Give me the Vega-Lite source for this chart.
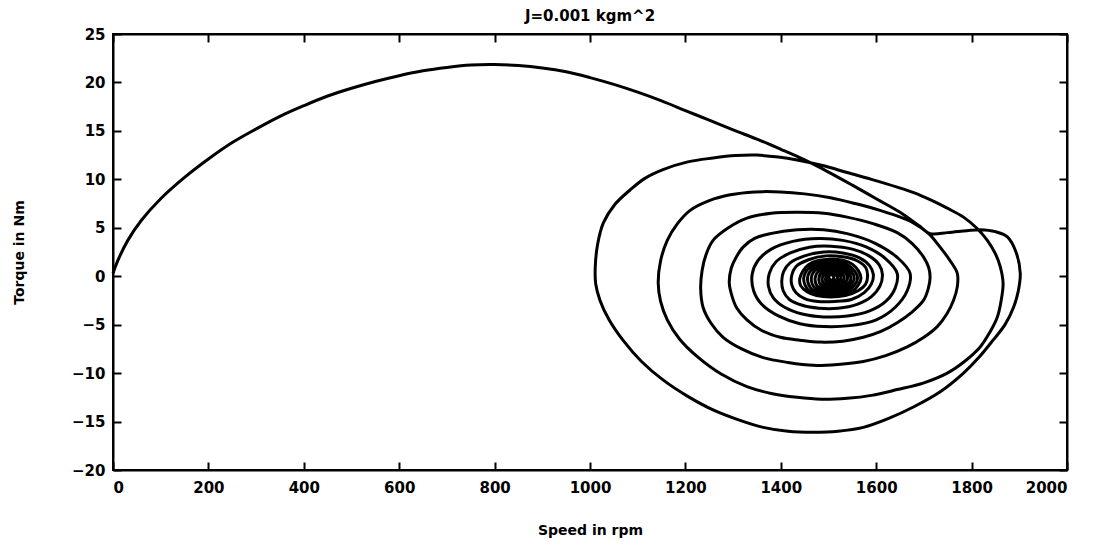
{
  "$schema": "https://vega.github.io/schema/vega-lite/v6.json",
  "width": 954,
  "height": 436,
  "autosize": {"type": "none"},
  "padding": {"left": 113, "top": 34, "right": 38, "bottom": 76},
  "background": "white",
  "title": {"text": "J=0.001 kgm^2", "fontSize": 15, "font": "DejaVu Sans", "fontWeight": "bold", "color": "black", "offset": 3, "anchor": "middle"},
  "config": {
    "view": {"stroke": "black", "strokeWidth": 2},
    "axis": {"domainColor": "black", "domainWidth": 2, "tickColor": "black", "tickWidth": 2, "tickSize": -8, "labelFont": "DejaVu Sans", "labelFontWeight": "bold", "labelFontSize": 15, "labelColor": "black", "titleFont": "DejaVu Sans", "titleFontWeight": "bold", "titleColor": "black", "grid": false}
  },
  "data": {"values": [
    {"speed":0,"torque":0.3},{"speed":10,"torque":1.6},{"speed":31,"torque":3.7},{"speed":60,"torque":5.8},{"speed":100,"torque":8},{"speed":150,"torque":10.2},{"speed":200,"torque":12.1},{"speed":250,"torque":13.8},{"speed":300,"torque":15.2},{"speed":350,"torque":16.5},{"speed":400,"torque":17.6},{"speed":450,"torque":18.6},{"speed":500,"torque":19.4},{"speed":550,"torque":20.1},{"speed":600,"torque":20.7},{"speed":650,"torque":21.2},{"speed":700,"torque":21.55},{"speed":750,"torque":21.8},{"speed":800,"torque":21.85},{"speed":850,"torque":21.75},{"speed":900,"torque":21.5},{"speed":950,"torque":21.1},{"speed":1000,"torque":20.5},{"speed":1050,"torque":19.8},{"speed":1100,"torque":19},{"speed":1150,"torque":18.1},{"speed":1200,"torque":17.1},{"speed":1250,"torque":16.1},{"speed":1300,"torque":15.1},{"speed":1350,"torque":14.15},{"speed":1400,"torque":13.1},{"speed":1450,"torque":12.0},{"speed":1500,"torque":10.75},{"speed":1550,"torque":9.4},{"speed":1600,"torque":8.0},{"speed":1650,"torque":6.6},{"speed":1690,"torque":5.2},{"speed":1713,"torque":4.4},{"speed":1750,"torque":4.5},{"speed":1790,"torque":4.7},{"speed":1818,"torque":4.8},{"speed":1850,"torque":4.6},{"speed":1875,"torque":4.05},{"speed":1893,"torque":2.5},{"speed":1902,"torque":0.3},
    {"speed":1898,"torque":-1.5},{"speed":1888,"torque":-3.2},{"speed":1870,"torque":-5},{"speed":1845,"torque":-6.6},{"speed":1815,"torque":-8.4},{"speed":1783,"torque":-10},{"speed":1735,"torque":-11.9},{"speed":1678,"torque":-13.5},{"speed":1625,"torque":-14.7},{"speed":1573,"torque":-15.6},{"speed":1520,"torque":-16},{"speed":1468,"torque":-16.1},{"speed":1415,"torque":-16},{"speed":1363,"torque":-15.6},{"speed":1310,"torque":-14.8},{"speed":1258,"torque":-13.8},{"speed":1205,"torque":-12.4},{"speed":1153,"torque":-10.7},{"speed":1108,"torque":-8.8},{"speed":1069,"torque":-6.6},{"speed":1040,"torque":-4.5},{"speed":1021,"torque":-2.5},{"speed":1012,"torque":-0.8},{"speed":1011,"torque":0.95},{"speed":1016,"torque":3.3},{"speed":1028,"torque":5.5},{"speed":1052,"torque":7.4},{"speed":1084,"torque":8.9},{"speed":1115,"torque":10.1},{"speed":1153,"torque":11},{"speed":1205,"torque":11.8},{"speed":1258,"torque":12.2},{"speed":1305,"torque":12.45},{"speed":1350,"torque":12.5},{"speed":1395,"torque":12.3},{"speed":1434,"torque":12},{"speed":1490,"torque":11.4},{"speed":1539,"torque":10.7},{"speed":1590,"torque":10},{"speed":1644,"torque":9.2},{"speed":1680,"torque":8.6},{"speed":1713,"torque":7.9},{"speed":1750,"torque":7},{"speed":1783,"torque":6.1},{"speed":1810,"torque":5},{"speed":1833,"torque":3.7},{"speed":1850,"torque":2.3},{"speed":1860,"torque":1},{"speed":1866,"torque":-0.7},
    {"speed":1862,"torque":-2.5},{"speed":1854,"torque":-4.2},{"speed":1838,"torque":-5.8},{"speed":1818,"torque":-7.3},{"speed":1785,"torque":-8.8},{"speed":1749,"torque":-10},{"speed":1700,"torque":-11},{"speed":1644,"torque":-11.7},{"speed":1590,"torque":-12.3},{"speed":1539,"torque":-12.6},{"speed":1485,"torque":-12.7},{"speed":1434,"torque":-12.5},{"speed":1380,"torque":-12.1},{"speed":1329,"torque":-11.4},{"speed":1275,"torque":-10.1},{"speed":1225,"torque":-8.3},{"speed":1188,"torque":-6.5},{"speed":1162,"torque":-4.5},{"speed":1148,"torque":-2.6},{"speed":1143,"torque":-0.7},{"speed":1148,"torque":1.6},{"speed":1162,"torque":3.7},{"speed":1183,"torque":5.4},{"speed":1210,"torque":6.8},{"speed":1250,"torque":7.8},{"speed":1294,"torque":8.4},{"speed":1345,"torque":8.7},{"speed":1399,"torque":8.7},{"speed":1450,"torque":8.5},{"speed":1504,"torque":8.1},{"speed":1556,"torque":7.5},{"speed":1608,"torque":6.8},{"speed":1645,"torque":6.2},{"speed":1678,"torque":5.5},{"speed":1710,"torque":4.4},{"speed":1734,"torque":3},{"speed":1755,"torque":1.6},{"speed":1770,"torque":0.3},
    {"speed":1770,"torque":-1.1},{"speed":1762,"torque":-2.5},{"speed":1748,"torque":-3.9},{"speed":1728,"torque":-5.2},{"speed":1700,"torque":-6.3},{"speed":1665,"torque":-7.3},{"speed":1620,"torque":-8.2},{"speed":1573,"torque":-8.8},{"speed":1520,"torque":-9.1},{"speed":1468,"torque":-9.2},{"speed":1415,"torque":-8.9},{"speed":1363,"torque":-8.4},{"speed":1318,"torque":-7.5},{"speed":1279,"torque":-6.3},{"speed":1253,"torque":-4.8},{"speed":1237,"torque":-3.2},{"speed":1232,"torque":-1.3},{"speed":1235,"torque":0.6},{"speed":1243,"torque":2.2},{"speed":1258,"torque":3.7},{"speed":1290,"torque":5},{"speed":1329,"torque":6},{"speed":1380,"torque":6.5},{"speed":1434,"torque":6.6},{"speed":1490,"torque":6.5},{"speed":1539,"torque":6.1},{"speed":1595,"torque":5.4},{"speed":1644,"torque":4.5},{"speed":1675,"torque":3.4},{"speed":1699,"torque":2},{"speed":1710,"torque":0.9},{"speed":1713,"torque":-0.1},
    {"speed":1709,"torque":-1.3},{"speed":1699,"torque":-2.5},{"speed":1675,"torque":-3.7},{"speed":1644,"torque":-4.8},{"speed":1610,"torque":-5.7},{"speed":1573,"torque":-6.3},{"speed":1530,"torque":-6.7},{"speed":1483,"torque":-6.8},{"speed":1440,"torque":-6.6},{"speed":1399,"torque":-6.3},{"speed":1360,"torque":-5.6},{"speed":1329,"torque":-4.5},{"speed":1308,"torque":-3.3},{"speed":1298,"torque":-2.1},{"speed":1292,"torque":-0.7},{"speed":1296,"torque":0.8},{"speed":1307,"torque":2.0},{"speed":1321,"torque":3},{"speed":1345,"torque":3.9},{"speed":1378,"torque":4.4},{"speed":1434,"torque":4.8},{"speed":1490,"torque":4.8},{"speed":1539,"torque":4.4},{"speed":1598,"torque":3.4},{"speed":1645,"torque":1.9},{"speed":1671,"torque":0.3},
    {"speed":1665,"torque":-1.5},{"speed":1640,"torque":-3.2},{"speed":1600,"torque":-4.5},{"speed":1545,"torque":-5.1},{"speed":1490,"torque":-5.2},{"speed":1440,"torque":-4.9},{"speed":1395,"torque":-4.1},{"speed":1360,"torque":-2.9},{"speed":1343,"torque":-1.5},{"speed":1340,"torque":0.2},{"speed":1352,"torque":1.6},{"speed":1380,"torque":2.8},{"speed":1425,"torque":3.6},{"speed":1480,"torque":3.9},{"speed":1530,"torque":3.7},{"speed":1580,"torque":3},{"speed":1620,"torque":1.8},{"speed":1644,"torque":0.3},
    {"speed":1640,"torque":-1.2},{"speed":1620,"torque":-2.6},{"speed":1585,"torque":-3.6},{"speed":1540,"torque":-4.1},{"speed":1490,"torque":-4.2},{"speed":1445,"torque":-3.9},{"speed":1408,"torque":-3.2},{"speed":1384,"torque":-2.2},{"speed":1374,"torque":-1},{"speed":1376,"torque":0.3},{"speed":1390,"torque":1.5},{"speed":1420,"torque":2.4},{"speed":1460,"torque":3.0},{"speed":1505,"torque":3.1},{"speed":1550,"torque":2.8},{"speed":1585,"torque":2.1},{"speed":1606,"torque":1.2},{"speed":1613,"torque":0.2},
    {"speed":1608,"torque":-1},{"speed":1590,"torque":-2.1},{"speed":1560,"torque":-2.9},{"speed":1520,"torque":-3.3},{"speed":1480,"torque":-3.3},{"speed":1445,"torque":-3.0},{"speed":1418,"torque":-2.4},{"speed":1405,"torque":-1.5},{"speed":1402,"torque":-0.5},{"speed":1406,"torque":0.5},{"speed":1420,"torque":1.4},{"speed":1450,"torque":2.1},{"speed":1490,"torque":2.5},{"speed":1530,"torque":2.4},{"speed":1565,"torque":1.9},{"speed":1586,"torque":1.1},{"speed":1594,"torque":0.2},
    {"speed":1590,"torque":-0.8},{"speed":1575,"torque":-1.7},{"speed":1548,"torque":-2.4},{"speed":1512,"torque":-2.6},{"speed":1478,"torque":-2.6},{"speed":1450,"torque":-2.3},{"speed":1432,"torque":-1.7},{"speed":1423,"torque":-0.9},{"speed":1423,"torque":0.1},{"speed":1432,"torque":1},{"speed":1458,"torque":1.7},{"speed":1495,"torque":2.1},{"speed":1530,"torque":2},{"speed":1560,"torque":1.6},{"speed":1578,"torque":0.9},{"speed":1582,"torque":0.1},
    {"speed":1578,"torque":-0.8},{"speed":1562,"torque":-1.5},{"speed":1535,"torque":-2},{"speed":1505,"torque":-2.15},{"speed":1475,"torque":-2},{"speed":1455,"torque":-1.6},{"speed":1442,"torque":-1},{"speed":1440,"torque":-0.2},
    {"speed":1458,"torque":1.2},{"speed":1504,"torque":1.75},{"speed":1550,"torque":1.25},{"speed":1568,"torque":-0.2},{"speed":1550,"torque":-1.55},{"speed":1504,"torque":-2.0},{"speed":1460,"torque":-1.55},
    {"speed":1448,"torque":-0.2},{"speed":1464,"torque":1.05},{"speed":1504,"torque":1.5},{"speed":1544,"torque":1.05},{"speed":1561,"torque":-0.2},{"speed":1544,"torque":-1.4},{"speed":1504,"torque":-1.8},{"speed":1466,"torque":-1.4},
    {"speed":1456,"torque":-0.2},{"speed":1470,"torque":0.9},{"speed":1504,"torque":1.3},{"speed":1538,"torque":0.9},{"speed":1554,"torque":-0.2},{"speed":1538,"torque":-1.25},{"speed":1504,"torque":-1.6},{"speed":1472,"torque":-1.25},
    {"speed":1464,"torque":-0.2},{"speed":1476,"torque":0.78},{"speed":1504,"torque":1.12},{"speed":1532,"torque":0.78},{"speed":1547,"torque":-0.2},{"speed":1532,"torque":-1.1},{"speed":1504,"torque":-1.42},{"speed":1478,"torque":-1.1},
    {"speed":1472,"torque":-0.2},{"speed":1482,"torque":0.66},{"speed":1504,"torque":0.96},{"speed":1527,"torque":0.66},{"speed":1540,"torque":-0.2},{"speed":1527,"torque":-0.95},{"speed":1504,"torque":-1.22},{"speed":1484,"torque":-0.95},
    {"speed":1480,"torque":-0.2},{"speed":1488,"torque":0.54},{"speed":1504,"torque":0.8},{"speed":1521,"torque":0.54},{"speed":1533,"torque":-0.2},{"speed":1521,"torque":-0.8},{"speed":1504,"torque":-1.04},{"speed":1490,"torque":-0.8},
    {"speed":1487,"torque":-0.2},{"speed":1493,"torque":0.42},{"speed":1505,"torque":0.65},{"speed":1516,"torque":0.42},{"speed":1526,"torque":-0.2},{"speed":1516,"torque":-0.66},{"speed":1505,"torque":-0.86},{"speed":1495,"torque":-0.66},
    {"speed":1494,"torque":-0.2},{"speed":1498,"torque":0.3},{"speed":1505,"torque":0.5},{"speed":1512,"torque":0.3},{"speed":1519,"torque":-0.2},{"speed":1512,"torque":-0.52},{"speed":1505,"torque":-0.68},{"speed":1499,"torque":-0.52},
    {"speed":1500,"torque":-0.2},{"speed":1505,"torque":0.25},{"speed":1511,"torque":-0.2},{"speed":1505,"torque":-0.45},{"speed":1502,"torque":-0.2}
  ]},
  "layer": [
    {
      "mark": {"type": "line", "color": "black", "strokeWidth": 3, "interpolate": "catmull-rom"},
      "encoding": {
        "x": {"field": "speed", "type": "quantitative", "scale": {"domain": [0, 2000], "nice": false, "zero": false},
              "axis": {"orient": "bottom", "format": "d", "values": [0,200,400,600,800,1000,1200,1400,1600,1800,2000], "title": "Speed in rpm", "titleFontSize": 14, "titleX": 477, "titleY": 60, "titleBaseline": "middle", "labelPadding": 18}},
        "y": {"field": "torque", "type": "quantitative", "scale": {"domain": [-20, 25], "nice": false, "zero": false},
              "axis": {"orient": "left", "format": "d", "values": [-20,-15,-10,-5,0,5,10,15,20,25], "title": "Torque in Nm", "titleFontSize": 14, "titleX": -94, "titleY": 218, "titleBaseline": "middle", "titleAngle": -90, "labelPadding": 16}},
        "order": {"value": null}
      }
    },
    {
      "mark": {"type": "line", "opacity": 0},
      "encoding": {
        "x": {"field": "speed", "type": "quantitative", "axis": {"orient": "top", "labels": false, "title": null, "values": [0,200,400,600,800,1000,1200,1400,1600,1800,2000]}},
        "y": {"field": "torque", "type": "quantitative", "axis": {"orient": "right", "labels": false, "title": null, "values": [-20,-15,-10,-5,0,5,10,15,20,25]}},
        "order": {"value": null}
      }
    }
  ],
  "resolve": {"axis": {"x": "independent", "y": "independent"}}
}
